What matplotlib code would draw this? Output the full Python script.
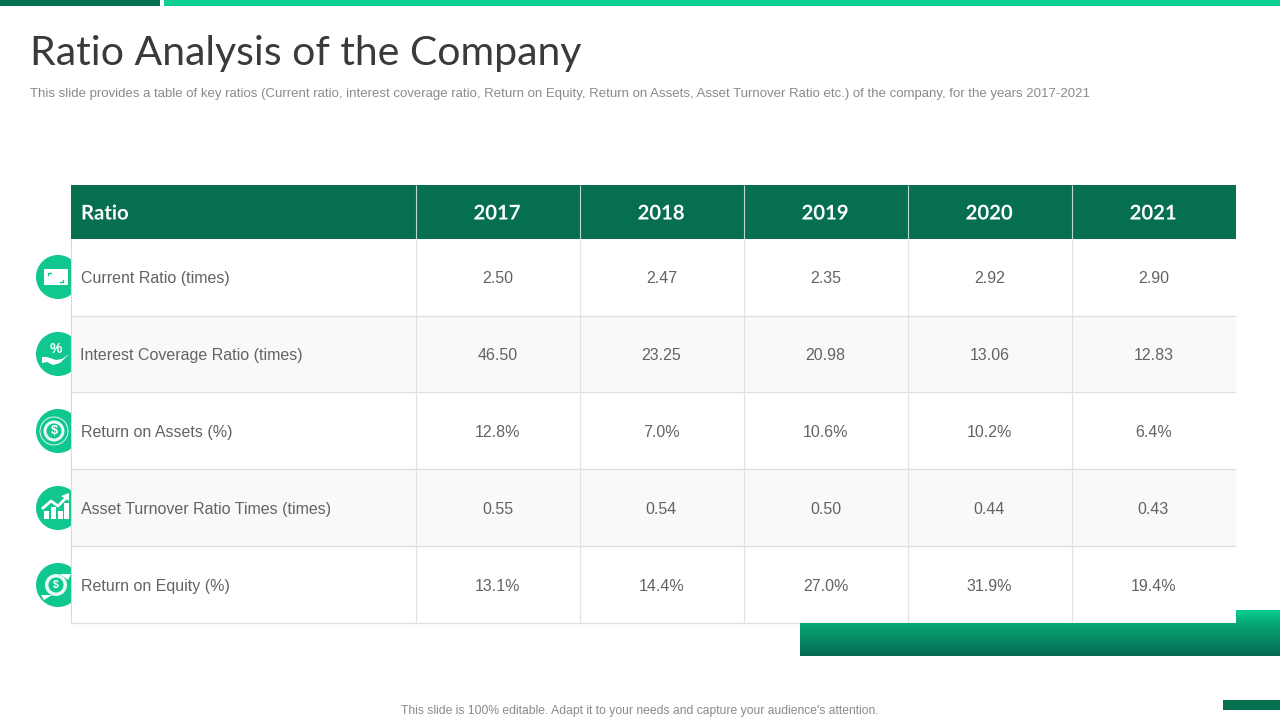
import numpy as np
import matplotlib
matplotlib.use("Agg")
import matplotlib.pyplot as plt
from matplotlib.colors import LinearSegmentedColormap
from matplotlib.patches import Circle, Rectangle, Polygon, FancyBboxPatch
import matplotlib.patheffects as pe

TITLE = "Ratio Analysis of the Company"
SUBTITLE = ("This slide provides a table of key ratios (Current ratio, interest coverage ratio, "
            "Return on Equity, Return on Assets, Asset Turnover Ratio etc.) of the company, for the years 2017-2021")
FOOTER = "This slide is 100% editable. Adapt it to your needs and capture your audience's attention."
HEAD_FIRST = "Ratio"
years = ["2017", "2018", "2019", "2020", "2021"]
ratios = ["Current Ratio (times)", "Interest Coverage Ratio (times)", "Return on Assets (%)",
          "Asset Turnover Ratio Times (times)", "Return on Equity (%)"]
current_ratio = ["2.50", "2.47", "2.35", "2.92", "2.90"]
interest_coverage = ["46.50", "23.25", "20.98", "13.06", "12.83"]
return_on_assets = ["12.8%", "7.0%", "10.6%", "10.2%", "6.4%"]
asset_turnover = ["0.55", "0.54", "0.50", "0.44", "0.43"]
return_on_equity = ["13.1%", "14.4%", "27.0%", "31.9%", "19.4%"]
rows = [current_ratio, interest_coverage, return_on_assets, asset_turnover, return_on_equity]

DARK, BRIGHT, ICON = "#066F50", "#0ACF90", "#10C790"
BODY = "Liberation Sans"
col_x = [71, 416, 580, 744, 908, 1072, 1236]
row_y = [239, 316, 392, 469, 546, 623]

fig = plt.figure(figsize=(12.8, 7.2), dpi=100, facecolor="white")
ax = fig.add_axes([0, 0, 1, 1])
ax.axis("off")

def rect(x0, y0, x1, y1, color, z=1):
    ax.add_patch(Rectangle((x0, y0), x1 - x0, y1 - y0, fc=color, ec="none", zorder=z))

def line(xs, ys, color, lw, z):
    ax.plot(xs, ys, color=color, lw=lw, zorder=z, solid_capstyle="butt")

# top and bottom accents
rect(0, 0, 160, 6, DARK)
rect(164, 0, 1280, 6, BRIGHT)
rect(1223, 700, 1280, 710, DARK)

# gradient block
cmap = LinearSegmentedColormap.from_list("g", [(0, BRIGHT), (0.28, "#08A878"), (1, "#066A50")])
grad = np.linspace(0, 1, 92).reshape(-1, 1)
im = ax.imshow(grad, extent=[800, 1280, 656, 610], cmap=cmap, aspect="auto", zorder=7, interpolation="bilinear")
clip = Polygon([(800, 623), (1236, 623), (1236, 610), (1280, 610), (1280, 656), (800, 656)],
               closed=True, transform=ax.transData, fc="none", ec="none")
ax.add_patch(clip)
im.set_clip_path(clip)

# titles
ax.text(30, 53.5, TITLE, fontsize=29.5, family="Lato", color="#3A3A3A", va="center", ha="left",
        fontweight="normal")
ax.text(30, 94, SUBTITLE, fontsize=9.55, family=BODY, color="#8A8A8A", va="center", ha="left")
ax.text(640, 711, FOOTER, fontsize=8.7, family=BODY, color="#8A8A8A", va="center", ha="center")

# icons behind the table
icon_y = [277, 354, 431, 508, 585]
for cy in icon_y:
    ax.add_patch(Circle((58, cy), 22, fc=ICON, ec="none", zorder=2))
W = dict(fc="white", ec="none", zorder=3)
# 1 card
ax.add_patch(FancyBboxPatch((44, 269), 24, 16, boxstyle="round,pad=0,rounding_size=1", **W))
ax.plot([48, 48, 51], [275, 273, 273], color=ICON, lw=1, zorder=4)
ax.plot([60, 63, 63], [282, 282, 280], color=ICON, lw=1, zorder=4)
# 2 hand with percent
ax.text(56, 349, "%", fontsize=10, family=BODY, fontweight="bold", color="white", ha="center", va="center", zorder=3)
ax.add_patch(Polygon([(42, 357), (47, 357), (56, 360), (62, 359), (69, 354), (60, 363), (53, 365), (47, 362), (42, 363)], **W))
# 3 coin
ax.add_patch(Circle((54, 431), 14, fc="none", ec="white", lw=0.6, zorder=3))
ax.add_patch(Circle((54, 431), 10.5, fc="white", ec="none", alpha=0.9, zorder=3))
ax.add_patch(Circle((54, 431), 7.5, fc=ICON, ec="none", zorder=3))
ax.text(54, 431, "$", fontsize=9, family=BODY, fontweight="bold", color="white", ha="center", va="center", zorder=4)
# 4 growth bars
for bx, top in zip([44, 51, 58, 64], [511, 507, 511, 503]):
    rect(bx, top, bx + 5, 519, "white", 3)
ax.plot([43, 51, 58, 67], [508, 501, 506, 497], color="white", lw=2, zorder=3)
ax.add_patch(Polygon([(61, 496), (69, 493), (69, 501)], **W))
# 5 coin with arrows
ax.add_patch(Circle((56, 585), 11, fc="white", ec="none", alpha=0.9, zorder=3))
ax.add_patch(Circle((56, 585), 7.5, fc=ICON, ec="none", zorder=3))
ax.text(56, 585, "$", fontsize=7.5, family=BODY, fontweight="bold", color="white", ha="center", va="center", zorder=4)
ax.add_patch(Polygon([(41, 595), (52, 595), (44, 600)], **W))
ax.add_patch(Polygon([(60, 574), (71, 574), (68, 580)], **W))

# table body
for i in range(5):
    rect(col_x[0], row_y[i], col_x[-1], row_y[i + 1], "#F9F9F9" if i % 2 else "white", 3.5)
# header
rect(col_x[0], 185, col_x[-1], 239, DARK, 4)
for x in col_x[1:-1]:
    line([x - 0.5, x - 0.5], [185, 239], "#BFD6CE", 0.8, 5)
    line([x - 0.5, x - 0.5], [239, 623], "#E2E2E2", 0.9, 5)
line([71, 71], [239, 623], "#DADADA", 0.8, 5)
for y in row_y[1:]:
    line([71, 1236], [y - 0.5, y - 0.5], "#DEDEDE", 0.9, 4.5)

def head(x, s, ha):
    t = ax.text(x, 213.5, s, fontsize=14.6, family="Lato", fontweight="bold", color="white", ha=ha, va="center", zorder=6)
    t.set_path_effects([pe.SimpleLineShadow(offset=(0.8, -0.8), shadow_color="#02402E", alpha=0.9), pe.Normal()])

head(81, HEAD_FIRST, "left")
centers = [(col_x[j + 1] + col_x[j + 2]) / 2 - 1 for j in range(5)]
for cx, yr in zip(centers, years):
    head(cx, yr, "center")

for i, (name, vals) in enumerate(zip(ratios, rows)):
    ym = icon_y[i] + 1.5
    ax.text(81 if i != 1 else 80, ym, name, fontsize=11.5, family=BODY, color="#636363", va="center", ha="left", zorder=6)
    for cx, v in zip(centers, vals):
        ax.text(cx + 0.5, ym, v, fontsize=11.5, family=BODY, color="#636363", va="center", ha="center", zorder=6)

ax.set_xlim(0, 1280)
ax.set_ylim(720, 0)
fig.savefig("out.png", dpi=100)
